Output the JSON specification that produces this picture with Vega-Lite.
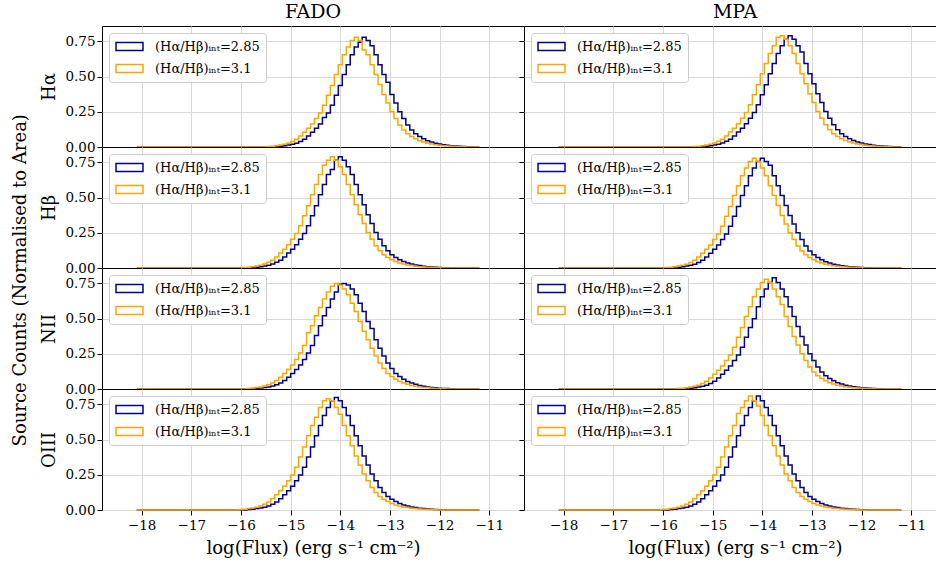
{
"$schema": "https://vega.github.io/schema/vega-lite/v6.json",
"padding": {"left": 12, "top": 2, "right": 0, "bottom": 3},
"title": {"text": "Source Counts (Normalised to Area)", "orient": "left", "anchor": "middle", "fontSize": 18, "offset": 10},
"datasets": {"h": [
{"x":-18.1,"f1a":0,"f1b":0,"m1a":0,"m1b":0,"f2a":0,"f2b":0,"m2a":0,"m2b":0,"f3a":0,"f3b":0,"m3a":0,"m3b":0,"f4a":0,"f4b":0,"m4a":0,"m4b":0},
{"x":-16.08,"f1a":0,"f1b":0,"m1a":0,"m1b":0,"f2a":0,"f2b":0,"m2a":0,"m2b":0,"f3a":0,"f3b":0,"m3a":0,"m3b":0,"f4a":0,"f4b":0,"m4a":0,"m4b":0},
{"x":-16.0,"f1a":0,"f1b":0,"m1a":0,"m1b":0,"f2a":0,"f2b":0,"m2a":0,"m2b":0,"f3a":0,"f3b":0,"m3a":0,"m3b":0,"f4a":0,"f4b":0.004,"m4a":0,"m4b":0.004},
{"x":-15.92,"f1a":0,"f1b":0,"m1a":0,"m1b":0,"f2a":0,"f2b":0.004,"m2a":0,"m2b":0.004,"f3a":0,"f3b":0,"m3a":0,"m3b":0,"f4a":0,"f4b":0.006,"m4a":0,"m4b":0.006},
{"x":-15.84,"f1a":0,"f1b":0,"m1a":0,"m1b":0,"f2a":0,"f2b":0.006,"m2a":0,"m2b":0.006,"f3a":0,"f3b":0.004,"m3a":0,"m3b":0,"f4a":0.004,"f4b":0.01,"m4a":0.004,"m4b":0.01},
{"x":-15.76,"f1a":0,"f1b":0,"m1a":0,"m1b":0,"f2a":0.004,"f2b":0.009,"m2a":0.004,"m2b":0.009,"f3a":0,"f3b":0.007,"m3a":0,"m3b":0,"f4a":0.006,"f4b":0.014,"m4a":0.006,"m4b":0.014},
{"x":-15.68,"f1a":0,"f1b":0,"m1a":0,"m1b":0,"f2a":0.006,"f2b":0.014,"m2a":0.006,"m2b":0.014,"f3a":0.004,"f3b":0.01,"m3a":0,"m3b":0.004,"f4a":0.01,"f4b":0.02,"m4a":0.01,"m4b":0.02},
{"x":-15.6,"f1a":0,"f1b":0,"m1a":0,"m1b":0,"f2a":0.009,"f2b":0.02,"m2a":0.009,"m2b":0.02,"f3a":0.007,"f3b":0.015,"m3a":0,"m3b":0.006,"f4a":0.014,"f4b":0.028,"m4a":0.014,"m4b":0.028},
{"x":-15.52,"f1a":0,"f1b":0,"m1a":0,"m1b":0,"f2a":0.014,"f2b":0.028,"m2a":0.014,"m2b":0.027,"f3a":0.01,"f3b":0.022,"m3a":0.004,"m3b":0.009,"f4a":0.02,"f4b":0.04,"m4a":0.02,"m4b":0.04},
{"x":-15.44,"f1a":0,"f1b":0.004,"m1a":0,"m1b":0,"f2a":0.02,"f2b":0.04,"m2a":0.02,"m2b":0.039,"f3a":0.015,"f3b":0.03,"m3a":0.006,"m3b":0.014,"f4a":0.028,"f4b":0.056,"m4a":0.028,"m4b":0.056},
{"x":-15.36,"f1a":0,"f1b":0.006,"m1a":0,"m1b":0.004,"f2a":0.028,"f2b":0.055,"m2a":0.027,"m2b":0.055,"f3a":0.022,"f3b":0.043,"m3a":0.009,"m3b":0.02,"f4a":0.04,"f4b":0.08,"m4a":0.04,"m4b":0.08},
{"x":-15.28,"f1a":0.004,"f1b":0.009,"m1a":0,"m1b":0.006,"f2a":0.04,"f2b":0.079,"m2a":0.039,"m2b":0.078,"f3a":0.03,"f3b":0.06,"m3a":0.014,"m3b":0.027,"f4a":0.056,"f4b":0.108,"m4a":0.056,"m4b":0.108},
{"x":-15.2,"f1a":0.006,"f1b":0.014,"m1a":0.004,"m1b":0.009,"f2a":0.055,"f2b":0.107,"m2a":0.055,"m2b":0.105,"f3a":0.043,"f3b":0.083,"m3a":0.02,"m3b":0.039,"f4a":0.08,"f4b":0.136,"m4a":0.08,"m4b":0.136},
{"x":-15.12,"f1a":0.009,"f1b":0.02,"m1a":0.006,"m1b":0.014,"f2a":0.079,"f2b":0.134,"m2a":0.078,"m2b":0.133,"f3a":0.06,"f3b":0.11,"m3a":0.027,"m3b":0.055,"f4a":0.108,"f4b":0.168,"m4a":0.108,"m4b":0.168},
{"x":-15.04,"f1a":0.014,"f1b":0.027,"m1a":0.009,"m1b":0.02,"f2a":0.107,"f2b":0.166,"m2a":0.105,"m2b":0.164,"f3a":0.083,"f3b":0.138,"m3a":0.039,"m3b":0.078,"f4a":0.136,"f4b":0.208,"m4a":0.136,"m4b":0.208},
{"x":-14.96,"f1a":0.02,"f1b":0.039,"m1a":0.014,"m1b":0.028,"f2a":0.134,"f2b":0.205,"m2a":0.133,"m2b":0.203,"f3a":0.11,"f3b":0.17,"m3a":0.055,"m3b":0.105,"f4a":0.168,"f4b":0.248,"m4a":0.168,"m4b":0.248},
{"x":-14.88,"f1a":0.027,"f1b":0.055,"m1a":0.02,"m1b":0.04,"f2a":0.166,"f2b":0.245,"m2a":0.164,"m2b":0.242,"f3a":0.138,"f3b":0.21,"m3a":0.078,"m3b":0.133,"f4a":0.208,"f4b":0.304,"m4a":0.208,"m4b":0.304},
{"x":-14.8,"f1a":0.039,"f1b":0.078,"m1a":0.028,"m1b":0.055,"f2a":0.205,"f2b":0.3,"m2a":0.203,"m2b":0.296,"f3a":0.17,"f3b":0.255,"m3a":0.105,"m3b":0.164,"f4a":0.248,"f4b":0.376,"m4a":0.248,"m4b":0.376},
{"x":-14.72,"f1a":0.055,"f1b":0.105,"m1a":0.04,"m1b":0.079,"f2a":0.245,"f2b":0.371,"m2a":0.242,"m2b":0.367,"f3a":0.21,"f3b":0.31,"m3a":0.133,"m3b":0.203,"f4a":0.304,"f4b":0.448,"m4a":0.304,"m4b":0.448},
{"x":-14.64,"f1a":0.078,"f1b":0.133,"m1a":0.055,"m1b":0.107,"f2a":0.3,"f2b":0.442,"m2a":0.296,"m2b":0.437,"f3a":0.255,"f3b":0.4,"m3a":0.164,"m3b":0.242,"f4a":0.376,"f4b":0.528,"m4a":0.376,"m4b":0.528},
{"x":-14.56,"f1a":0.105,"f1b":0.164,"m1a":0.079,"m1b":0.134,"f2a":0.371,"f2b":0.521,"m2a":0.367,"m2b":0.515,"f3a":0.31,"f3b":0.45,"m3a":0.203,"m3b":0.296,"f4a":0.448,"f4b":0.6,"m4a":0.448,"m4b":0.6},
{"x":-14.48,"f1a":0.133,"f1b":0.203,"m1a":0.107,"m1b":0.166,"f2a":0.442,"f2b":0.593,"m2a":0.437,"m2b":0.585,"f3a":0.38,"f3b":0.52,"m3a":0.242,"m3b":0.367,"f4a":0.528,"f4b":0.66,"m4a":0.528,"m4b":0.685},
{"x":-14.4,"f1a":0.164,"f1b":0.242,"m1a":0.134,"m1b":0.205,"f2a":0.521,"f2b":0.664,"m2a":0.515,"m2b":0.655,"f3a":0.45,"f3b":0.58,"m3a":0.296,"m3b":0.437,"f4a":0.6,"f4b":0.728,"m4a":0.6,"m4b":0.728},
{"x":-14.32,"f1a":0.21,"f1b":0.296,"m1a":0.166,"m1b":0.245,"f2a":0.593,"f2b":0.73,"m2a":0.585,"m2b":0.71,"f3a":0.52,"f3b":0.64,"m3a":0.367,"m3b":0.515,"f4a":0.672,"f4b":0.776,"m4a":0.672,"m4b":0.776},
{"x":-14.24,"f1a":0.242,"f1b":0.367,"m1a":0.205,"m1b":0.3,"f2a":0.664,"f2b":0.766,"m2a":0.655,"m2b":0.757,"f3a":0.58,"f3b":0.69,"m3a":0.437,"m3b":0.585,"f4a":0.728,"f4b":0.79,"m4a":0.728,"m4b":0.81},
{"x":-14.16,"f1a":0.296,"f1b":0.437,"m1a":0.245,"m1b":0.371,"f2a":0.7,"f2b":0.79,"m2a":0.71,"m2b":0.78,"f3a":0.64,"f3b":0.73,"m3a":0.5,"m3b":0.655,"f4a":0.776,"f4b":0.776,"m4a":0.776,"m4b":0.776},
{"x":-14.08,"f1a":0.367,"f1b":0.515,"m1a":0.3,"m1b":0.442,"f2a":0.766,"f2b":0.766,"m2a":0.757,"m2b":0.757,"f3a":0.69,"f3b":0.75,"m3a":0.585,"m3b":0.71,"f4a":0.8,"f4b":0.728,"m4a":0.81,"m4b":0.74},
{"x":-14.0,"f1a":0.437,"f1b":0.585,"m1a":0.371,"m1b":0.521,"f2a":0.79,"f2b":0.719,"m2a":0.78,"m2b":0.71,"f3a":0.745,"f3b":0.74,"m3a":0.655,"m3b":0.757,"f4a":0.776,"f4b":0.68,"m4a":0.776,"m4b":0.672},
{"x":-13.92,"f1a":0.515,"f1b":0.655,"m1a":0.442,"m1b":0.593,"f2a":0.766,"f2b":0.664,"m2a":0.757,"m2b":0.655,"f3a":0.75,"f3b":0.71,"m3a":0.71,"m3b":0.78,"f4a":0.728,"f4b":0.6,"m4a":0.728,"m4b":0.6},
{"x":-13.84,"f1a":0.585,"f1b":0.71,"m1a":0.521,"m1b":0.664,"f2a":0.719,"f2b":0.593,"m2a":0.73,"m2b":0.585,"f3a":0.74,"f3b":0.67,"m3a":0.757,"m3b":0.757,"f4a":0.672,"f4b":0.528,"m4a":0.672,"m4b":0.528},
{"x":-13.76,"f1a":0.655,"f1b":0.757,"m1a":0.593,"m1b":0.719,"f2a":0.664,"f2b":0.521,"m2a":0.655,"m2b":0.515,"f3a":0.71,"f3b":0.61,"m3a":0.79,"m3b":0.71,"f4a":0.6,"f4b":0.456,"m4a":0.6,"m4b":0.456},
{"x":-13.68,"f1a":0.71,"f1b":0.78,"m1a":0.664,"m1b":0.78,"f2a":0.593,"f2b":0.45,"m2a":0.585,"m2b":0.445,"f3a":0.67,"f3b":0.55,"m3a":0.757,"m3b":0.655,"f4a":0.528,"f4b":0.384,"m4a":0.528,"m4b":0.384},
{"x":-13.6,"f1a":0.745,"f1b":0.757,"m1a":0.719,"m1b":0.79,"f2a":0.521,"f2b":0.379,"m2a":0.515,"m2b":0.374,"f3a":0.61,"f3b":0.48,"m3a":0.71,"m3b":0.6,"f4a":0.456,"f4b":0.32,"m4a":0.456,"m4b":0.32},
{"x":-13.52,"f1a":0.78,"f1b":0.69,"m1a":0.766,"m1b":0.766,"f2a":0.45,"f2b":0.316,"m2a":0.445,"m2b":0.312,"f3a":0.55,"f3b":0.41,"m3a":0.655,"m3b":0.515,"f4a":0.384,"f4b":0.256,"m4a":0.384,"m4b":0.256},
{"x":-13.44,"f1a":0.757,"f1b":0.655,"m1a":0.79,"m1b":0.719,"f2a":0.379,"f2b":0.253,"m2a":0.374,"m2b":0.25,"f3a":0.48,"f3b":0.35,"m3a":0.585,"m3b":0.445,"f4a":0.32,"f4b":0.208,"m4a":0.32,"m4b":0.208},
{"x":-13.36,"f1a":0.72,"f1b":0.585,"m1a":0.766,"m1b":0.664,"f2a":0.316,"f2b":0.205,"m2a":0.312,"m2b":0.203,"f3a":0.43,"f3b":0.29,"m3a":0.515,"m3b":0.374,"f4a":0.256,"f4b":0.16,"m4a":0.256,"m4b":0.16},
{"x":-13.28,"f1a":0.655,"f1b":0.515,"m1a":0.719,"m1b":0.593,"f2a":0.253,"f2b":0.158,"m2a":0.25,"m2b":0.156,"f3a":0.35,"f3b":0.235,"m3a":0.445,"m3b":0.312,"f4a":0.208,"f4b":0.124,"m4a":0.208,"m4b":0.124},
{"x":-13.2,"f1a":0.585,"f1b":0.445,"m1a":0.675,"m1b":0.521,"f2a":0.205,"f2b":0.122,"m2a":0.203,"m2b":0.121,"f3a":0.29,"f3b":0.185,"m3a":0.374,"m3b":0.25,"f4a":0.16,"f4b":0.096,"m4a":0.16,"m4b":0.096},
{"x":-13.12,"f1a":0.515,"f1b":0.374,"m1a":0.593,"m1b":0.45,"f2a":0.158,"f2b":0.095,"m2a":0.156,"m2b":0.094,"f3a":0.235,"f3b":0.145,"m3a":0.312,"m3b":0.203,"f4a":0.124,"f4b":0.076,"m4a":0.124,"m4b":0.076},
{"x":-13.04,"f1a":0.46,"f1b":0.312,"m1a":0.521,"m1b":0.379,"f2a":0.122,"f2b":0.075,"m2a":0.121,"m2b":0.074,"f3a":0.185,"f3b":0.11,"m3a":0.25,"m3b":0.156,"f4a":0.096,"f4b":0.06,"m4a":0.096,"m4b":0.06},
{"x":-12.96,"f1a":0.374,"f1b":0.25,"m1a":0.45,"m1b":0.316,"f2a":0.095,"f2b":0.059,"m2a":0.094,"m2b":0.059,"f3a":0.145,"f3b":0.088,"m3a":0.203,"m3b":0.121,"f4a":0.076,"f4b":0.046,"m4a":0.076,"m4b":0.046},
{"x":-12.88,"f1a":0.312,"f1b":0.203,"m1a":0.379,"m1b":0.253,"f2a":0.075,"f2b":0.046,"m2a":0.074,"m2b":0.045,"f3a":0.11,"f3b":0.07,"m3a":0.156,"m3b":0.094,"f4a":0.06,"f4b":0.036,"m4a":0.06,"m4b":0.036},
{"x":-12.8,"f1a":0.25,"f1b":0.156,"m1a":0.316,"m1b":0.205,"f2a":0.059,"f2b":0.036,"m2a":0.059,"m2b":0.035,"f3a":0.088,"f3b":0.054,"m3a":0.121,"m3b":0.074,"f4a":0.046,"f4b":0.028,"m4a":0.046,"m4b":0.028},
{"x":-12.72,"f1a":0.203,"f1b":0.121,"m1a":0.253,"m1b":0.158,"f2a":0.046,"f2b":0.028,"m2a":0.045,"m2b":0.027,"f3a":0.07,"f3b":0.042,"m3a":0.094,"m3b":0.059,"f4a":0.036,"f4b":0.022,"m4a":0.036,"m4b":0.022},
{"x":-12.64,"f1a":0.156,"f1b":0.094,"m1a":0.205,"m1b":0.122,"f2a":0.036,"f2b":0.021,"m2a":0.035,"m2b":0.021,"f3a":0.054,"f3b":0.033,"m3a":0.074,"m3b":0.045,"f4a":0.028,"f4b":0.017,"m4a":0.028,"m4b":0.017},
{"x":-12.56,"f1a":0.121,"f1b":0.074,"m1a":0.158,"m1b":0.095,"f2a":0.028,"f2b":0.017,"m2a":0.027,"m2b":0.016,"f3a":0.042,"f3b":0.025,"m3a":0.059,"m3b":0.035,"f4a":0.022,"f4b":0.013,"m4a":0.022,"m4b":0.013},
{"x":-12.48,"f1a":0.094,"f1b":0.059,"m1a":0.122,"m1b":0.075,"f2a":0.021,"f2b":0.013,"m2a":0.021,"m2b":0.012,"f3a":0.033,"f3b":0.019,"m3a":0.045,"m3b":0.027,"f4a":0.017,"f4b":0.01,"m4a":0.017,"m4b":0.01},
{"x":-12.4,"f1a":0.074,"f1b":0.045,"m1a":0.095,"m1b":0.059,"f2a":0.017,"f2b":0.009,"m2a":0.016,"m2b":0.009,"f3a":0.025,"f3b":0.014,"m3a":0.035,"m3b":0.021,"f4a":0.013,"f4b":0.007,"m4a":0.013,"m4b":0.007},
{"x":-12.32,"f1a":0.059,"f1b":0.035,"m1a":0.075,"m1b":0.046,"f2a":0.013,"f2b":0.007,"m2a":0.012,"m2b":0.007,"f3a":0.019,"f3b":0.011,"m3a":0.027,"m3b":0.016,"f4a":0.01,"f4b":0.006,"m4a":0.01,"m4b":0.006},
{"x":-12.24,"f1a":0.045,"f1b":0.027,"m1a":0.059,"m1b":0.036,"f2a":0.009,"f2b":0.006,"m2a":0.009,"m2b":0.005,"f3a":0.014,"f3b":0.008,"m3a":0.021,"m3b":0.012,"f4a":0.007,"f4b":0.004,"m4a":0.007,"m4b":0.004},
{"x":-12.16,"f1a":0.035,"f1b":0.021,"m1a":0.046,"m1b":0.028,"f2a":0.007,"f2b":0.004,"m2a":0.007,"m2b":0.004,"f3a":0.011,"f3b":0.006,"m3a":0.016,"m3b":0.009,"f4a":0.006,"f4b":0.002,"m4a":0.006,"m4b":0.002},
{"x":-12.08,"f1a":0.027,"f1b":0.016,"m1a":0.036,"m1b":0.021,"f2a":0.006,"f2b":0.002,"m2a":0.005,"m2b":0.002,"f3a":0.008,"f3b":0.004,"m3a":0.012,"m3b":0.007,"f4a":0.004,"f4b":0.002,"m4a":0.004,"m4b":0.002},
{"x":-12.0,"f1a":0.021,"f1b":0.012,"m1a":0.028,"m1b":0.017,"f2a":0.004,"f2b":0.002,"m2a":0.004,"m2b":0.002,"f3a":0.006,"f3b":0.003,"m3a":0.009,"m3b":0.005,"f4a":0.002,"f4b":0,"m4a":0.002,"m4b":0},
{"x":-11.92,"f1a":0.016,"f1b":0.009,"m1a":0.021,"m1b":0.013,"f2a":0.002,"f2b":0,"m2a":0.002,"m2b":0,"f3a":0.004,"f3b":0.002,"m3a":0.007,"m3b":0.004,"f4a":0.002,"f4b":0,"m4a":0.002,"m4b":0},
{"x":-11.84,"f1a":0.012,"f1b":0.007,"m1a":0.017,"m1b":0.009,"f2a":0.002,"f2b":0,"m2a":0.002,"m2b":0,"f3a":0.003,"f3b":0,"m3a":0.005,"m3b":0.002,"f4a":0,"f4b":0,"m4a":0,"m4b":0},
{"x":-11.76,"f1a":0.009,"f1b":0.005,"m1a":0.013,"m1b":0.007,"f2a":0,"f2b":0,"m2a":0,"m2b":0,"f3a":0.002,"f3b":0,"m3a":0.004,"m3b":0.002,"f4a":0,"f4b":0,"m4a":0,"m4b":0},
{"x":-11.68,"f1a":0.007,"f1b":0.004,"m1a":0.009,"m1b":0.006,"f2a":0,"f2b":0,"m2a":0,"m2b":0,"f3a":0,"f3b":0,"m3a":0.002,"m3b":0,"f4a":0,"f4b":0,"m4a":0,"m4b":0},
{"x":-11.6,"f1a":0.005,"f1b":0.002,"m1a":0.007,"m1b":0.004,"f2a":0,"f2b":0,"m2a":0,"m2b":0,"f3a":0,"f3b":0,"m3a":0.002,"m3b":0,"f4a":0,"f4b":0,"m4a":0,"m4b":0},
{"x":-11.52,"f1a":0.004,"f1b":0.002,"m1a":0.006,"m1b":0.002,"f2a":0,"f2b":0,"m2a":0,"m2b":0,"f3a":0,"f3b":0,"m3a":0,"m3b":0,"f4a":0,"f4b":0,"m4a":0,"m4b":0},
{"x":-11.44,"f1a":0.002,"f1b":0,"m1a":0.004,"m1b":0.002,"f2a":0,"f2b":0,"m2a":0,"m2b":0,"f3a":0,"f3b":0,"m3a":0,"m3b":0,"f4a":0,"f4b":0,"m4a":0,"m4b":0},
{"x":-11.36,"f1a":0.002,"f1b":0,"m1a":0.002,"m1b":0,"f2a":0,"f2b":0,"m2a":0,"m2b":0,"f3a":0,"f3b":0,"m3a":0,"m3b":0,"f4a":0,"f4b":0,"m4a":0,"m4b":0},
{"x":-11.28,"f1a":0,"f1b":0,"m1a":0.002,"m1b":0,"f2a":0,"f2b":0,"m2a":0,"m2b":0,"f3a":0,"f3b":0,"m3a":0,"m3b":0,"f4a":0,"f4b":0,"m4a":0,"m4b":0},
{"x":-11.2,"f1a":0,"f1b":0,"m1a":0,"m1b":0,"f2a":0,"f2b":0,"m2a":0,"m2b":0,"f3a":0,"f3b":0,"m3a":0,"m3b":0,"f4a":0,"f4b":0,"m4a":0,"m4b":0}
]},
"data": {"name": "h"},
"bounds": "flush",
"spacing": 0,
"columns": 2,
"resolve": {"scale": {"stroke": "independent"}, "legend": {"stroke": "independent"}},
"concat": [
 {"width": 422, "height": 121, "title": {"text": "FADO", "fontSize": 19, "offset": 4},
  "transform": [{"fold": ["f1a", "f1b"], "as": ["s", "y"]}],
  "mark": "line",
  "encoding": {
   "x": {"field": "x", "type": "quantitative", "scale": {"domain": [-18.8, -10.3], "nice": false}, "axis": {"values": [-18,-17,-16,-15,-14,-13,-12,-11], "labels": false, "title": null}},
   "y": {"field": "y", "type": "quantitative", "scale": {"domain": [0, 0.86], "nice": false}, "axis": {"values": [0,0.25,0.5,0.75], "format": ".2f", "title": "Hα", "titlePadding": 6}},
   "stroke": {"field": "s", "type": "nominal", "scale": {"domain": ["f1a", "f1b"], "range": ["#00008b", "#ffa500"]}, "legend": {"labelExpr": "slice(datum.value, -1) == 'a' ? '(Hα/Hβ)ᵢₙₜ=2.85' : '(Hα/Hβ)ᵢₙₜ=3.1'"}}
  }},
 {"width": 422, "height": 121, "title": {"text": "MPA", "fontSize": 19, "offset": 4},
  "transform": [{"fold": ["m1a", "m1b"], "as": ["s", "y"]}],
  "mark": "line",
  "encoding": {
   "x": {"field": "x", "type": "quantitative", "scale": {"domain": [-18.8, -10.3], "nice": false}, "axis": {"values": [-18,-17,-16,-15,-14,-13,-12,-11], "labels": false, "title": null}},
   "y": {"field": "y", "type": "quantitative", "scale": {"domain": [0, 0.86], "nice": false}, "axis": {"values": [0,0.25,0.5,0.75], "labels": false, "title": null}},
   "stroke": {"field": "s", "type": "nominal", "scale": {"domain": ["m1a", "m1b"], "range": ["#00008b", "#ffa500"]}, "legend": {"labelExpr": "slice(datum.value, -1) == 'a' ? '(Hα/Hβ)ᵢₙₜ=2.85' : '(Hα/Hβ)ᵢₙₜ=3.1'"}}
  }},
 {"width": 422, "height": 121,
  "transform": [{"fold": ["f2a", "f2b"], "as": ["s", "y"]}],
  "mark": "line",
  "encoding": {
   "x": {"field": "x", "type": "quantitative", "scale": {"domain": [-18.8, -10.3], "nice": false}, "axis": {"values": [-18,-17,-16,-15,-14,-13,-12,-11], "labels": false, "title": null}},
   "y": {"field": "y", "type": "quantitative", "scale": {"domain": [0, 0.86], "nice": false}, "axis": {"values": [0,0.25,0.5,0.75], "format": ".2f", "title": "Hβ", "titlePadding": 6}},
   "stroke": {"field": "s", "type": "nominal", "scale": {"domain": ["f2a", "f2b"], "range": ["#00008b", "#ffa500"]}, "legend": {"labelExpr": "slice(datum.value, -1) == 'a' ? '(Hα/Hβ)ᵢₙₜ=2.85' : '(Hα/Hβ)ᵢₙₜ=3.1'"}}
  }},
 {"width": 422, "height": 121,
  "transform": [{"fold": ["m2a", "m2b"], "as": ["s", "y"]}],
  "mark": "line",
  "encoding": {
   "x": {"field": "x", "type": "quantitative", "scale": {"domain": [-18.8, -10.3], "nice": false}, "axis": {"values": [-18,-17,-16,-15,-14,-13,-12,-11], "labels": false, "title": null}},
   "y": {"field": "y", "type": "quantitative", "scale": {"domain": [0, 0.86], "nice": false}, "axis": {"values": [0,0.25,0.5,0.75], "labels": false, "title": null}},
   "stroke": {"field": "s", "type": "nominal", "scale": {"domain": ["m2a", "m2b"], "range": ["#00008b", "#ffa500"]}, "legend": {"labelExpr": "slice(datum.value, -1) == 'a' ? '(Hα/Hβ)ᵢₙₜ=2.85' : '(Hα/Hβ)ᵢₙₜ=3.1'"}}
  }},
 {"width": 422, "height": 121,
  "transform": [{"fold": ["f3a", "f3b"], "as": ["s", "y"]}],
  "mark": "line",
  "encoding": {
   "x": {"field": "x", "type": "quantitative", "scale": {"domain": [-18.8, -10.3], "nice": false}, "axis": {"values": [-18,-17,-16,-15,-14,-13,-12,-11], "labels": false, "title": null}},
   "y": {"field": "y", "type": "quantitative", "scale": {"domain": [0, 0.86], "nice": false}, "axis": {"values": [0,0.25,0.5,0.75], "format": ".2f", "title": "NII", "titlePadding": 6}},
   "stroke": {"field": "s", "type": "nominal", "scale": {"domain": ["f3a", "f3b"], "range": ["#00008b", "#ffa500"]}, "legend": {"labelExpr": "slice(datum.value, -1) == 'a' ? '(Hα/Hβ)ᵢₙₜ=2.85' : '(Hα/Hβ)ᵢₙₜ=3.1'"}}
  }},
 {"width": 422, "height": 121,
  "transform": [{"fold": ["m3a", "m3b"], "as": ["s", "y"]}],
  "mark": "line",
  "encoding": {
   "x": {"field": "x", "type": "quantitative", "scale": {"domain": [-18.8, -10.3], "nice": false}, "axis": {"values": [-18,-17,-16,-15,-14,-13,-12,-11], "labels": false, "title": null}},
   "y": {"field": "y", "type": "quantitative", "scale": {"domain": [0, 0.86], "nice": false}, "axis": {"values": [0,0.25,0.5,0.75], "labels": false, "title": null}},
   "stroke": {"field": "s", "type": "nominal", "scale": {"domain": ["m3a", "m3b"], "range": ["#00008b", "#ffa500"]}, "legend": {"labelExpr": "slice(datum.value, -1) == 'a' ? '(Hα/Hβ)ᵢₙₜ=2.85' : '(Hα/Hβ)ᵢₙₜ=3.1'"}}
  }},
 {"width": 422, "height": 121,
  "transform": [{"fold": ["f4a", "f4b"], "as": ["s", "y"]}],
  "mark": "line",
  "encoding": {
   "x": {"field": "x", "type": "quantitative", "scale": {"domain": [-18.8, -10.3], "nice": false}, "axis": {"values": [-18,-17,-16,-15,-14,-13,-12,-11], "title": "log(Flux) (erg s⁻¹ cm⁻²)", "titlePadding": 8, "labelPadding": 3}},
   "y": {"field": "y", "type": "quantitative", "scale": {"domain": [0, 0.86], "nice": false}, "axis": {"values": [0,0.25,0.5,0.75], "format": ".2f", "title": "OIII", "titlePadding": 6}},
   "stroke": {"field": "s", "type": "nominal", "scale": {"domain": ["f4a", "f4b"], "range": ["#00008b", "#ffa500"]}, "legend": {"labelExpr": "slice(datum.value, -1) == 'a' ? '(Hα/Hβ)ᵢₙₜ=2.85' : '(Hα/Hβ)ᵢₙₜ=3.1'"}}
  }},
 {"width": 422, "height": 121,
  "transform": [{"fold": ["m4a", "m4b"], "as": ["s", "y"]}],
  "mark": "line",
  "encoding": {
   "x": {"field": "x", "type": "quantitative", "scale": {"domain": [-18.8, -10.3], "nice": false}, "axis": {"values": [-18,-17,-16,-15,-14,-13,-12,-11], "title": "log(Flux) (erg s⁻¹ cm⁻²)", "titlePadding": 8, "labelPadding": 3}},
   "y": {"field": "y", "type": "quantitative", "scale": {"domain": [0, 0.86], "nice": false}, "axis": {"values": [0,0.25,0.5,0.75], "labels": false, "title": null}},
   "stroke": {"field": "s", "type": "nominal", "scale": {"domain": ["m4a", "m4b"], "range": ["#00008b", "#ffa500"]}, "legend": {"labelExpr": "slice(datum.value, -1) == 'a' ? '(Hα/Hβ)ᵢₙₜ=2.85' : '(Hα/Hβ)ᵢₙₜ=3.1'"}}
  }}
],
"config": {
 "font": "DejaVu Serif",
 "view": {"stroke": "black", "strokeWidth": 1},
 "axis": {"domain": false, "grid": true, "gridColor": "#d9d9d9", "gridWidth": 1, "tickColor": "black", "tickSize": 5, "tickWidth": 1, "labelFont": "DejaVu Serif", "labelFontSize": 13.5, "labelColor": "black", "labelPadding": 2, "titleFont": "DejaVu Serif", "titleFontSize": 18, "titleFontWeight": "normal", "titleColor": "black"},
 "legend": {"orient": "top-left", "offset": 7, "title": null, "fillColor": "white", "strokeColor": "#cccccc", "cornerRadius": 3, "padding": 6, "labelFont": "DejaVu Serif", "labelFontSize": 13, "labelColor": "black", "labelLimit": 300, "labelOffset": 18, "symbolType": "M-2,-0.6H2V0.6H-2Z", "symbolSize": 182, "symbolOffset": 7, "symbolStrokeWidth": 1.5, "symbolFillColor": "transparent", "rowPadding": 7},
 "title": {"font": "DejaVu Serif", "fontWeight": "normal", "color": "black"},
 "line": {"interpolate": "step", "strokeWidth": 1.5}
}
}
